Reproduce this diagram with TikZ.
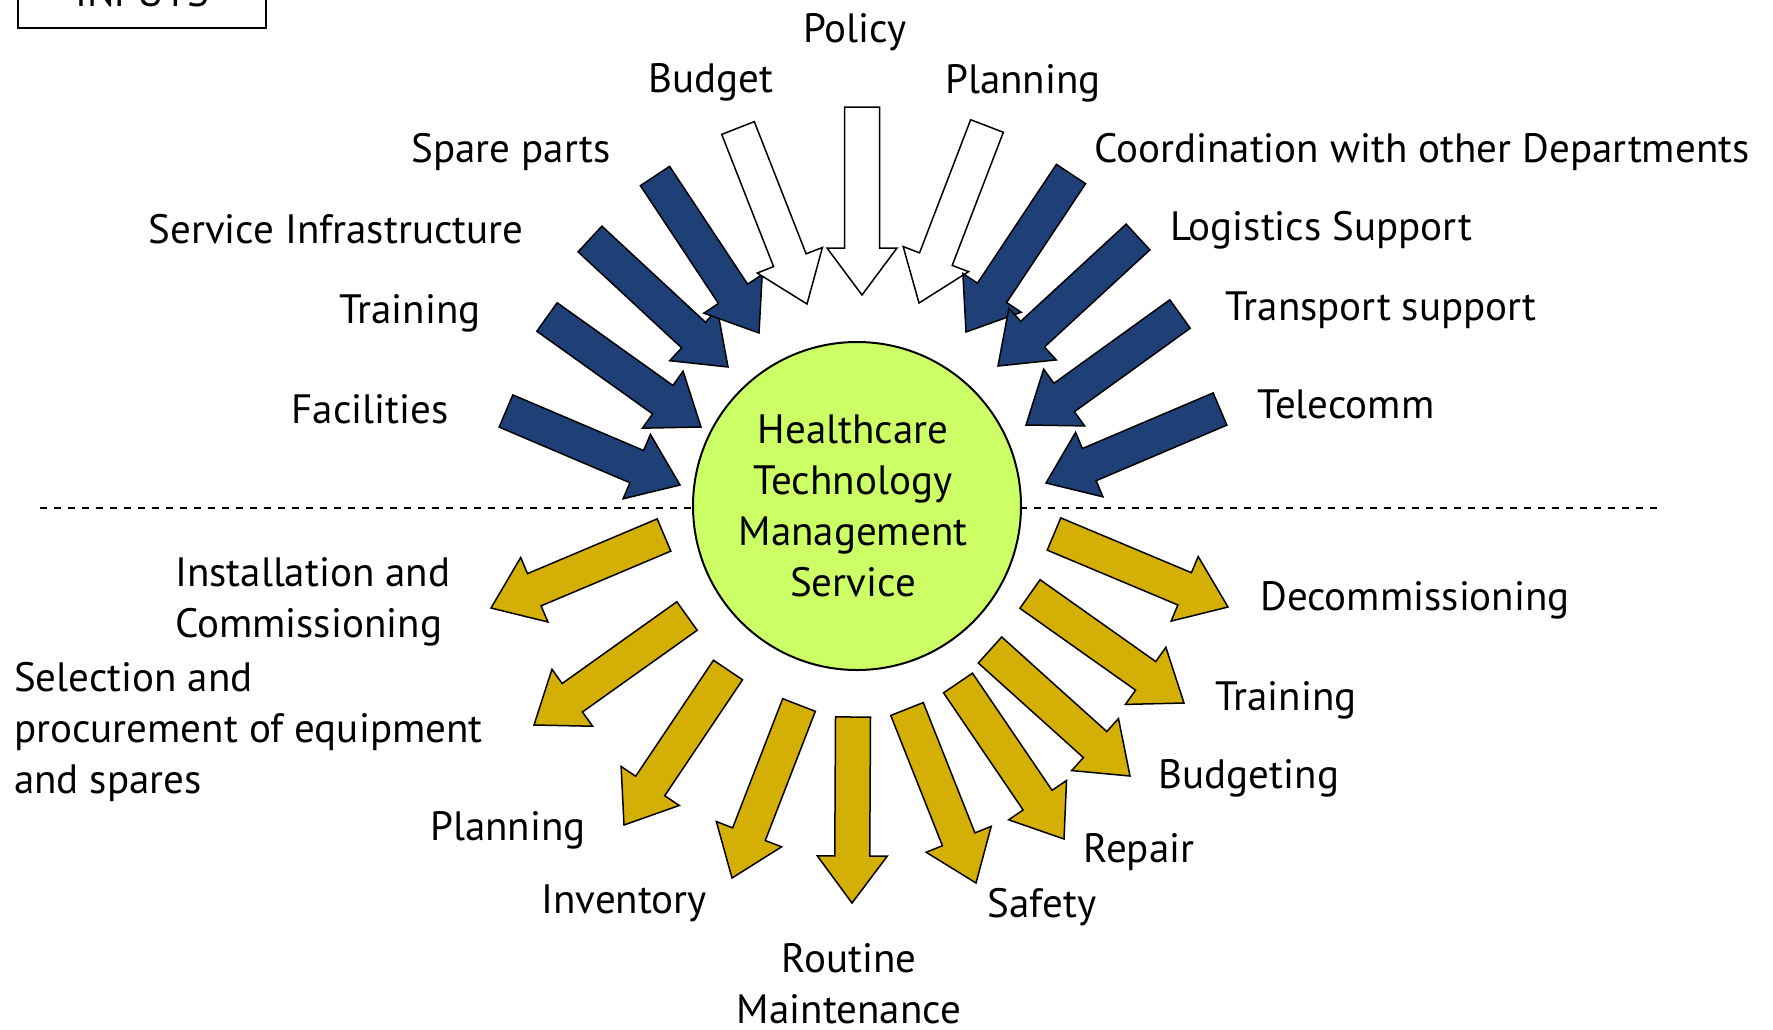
\documentclass[tikz,border=0pt]{standalone}
\usepackage{fontspec}
\setmainfont{PT Sans}
\usetikzlibrary{calc}
\definecolor{navy}{RGB}{31,63,119}
\definecolor{gold}{RGB}{212,175,5}
\definecolor{lime}{RGB}{204,255,102}
\def\fatarrow[#1](#2)(#3){\path let \p1=(#2), \p2=(#3), \n1={atan2(\y2-\y1,\x2-\x1)}, \n2={veclen(\x2-\x1,\y2-\y1)-47pt} in [draw, line width=1.5pt, line join=miter, #1] (\p1) -- ++(\n1+90:17.5pt) -- ++(\n1:\n2) -- ++(\n1+90:17.5pt) -- (\p2) -- ++(\n1-143.33:58.6pt) -- ++(\n1+90:17.5pt) -- ++(\n1+180:\n2) -- cycle;}

\begin{document}
\begin{tikzpicture}[x=1pt, y=-1pt,
		lbl/.style={font=\fontsize{41}{51}\selectfont, inner sep=0pt, anchor=base}]
		%%%%% START %%%%%
		\useasboundingbox (0, 0) rectangle (1773, 1029);
		
		\node[lbl, draw, line width=2pt, minimum width=248pt, text depth=22pt] (inputs) at (142, 6) {INPUTS};
		
		\draw[line width=2pt, dash pattern=on 7pt off 7pt] (40, 508) -- (1660, 508);
		
		% inputs
		\fatarrow[fill=navy](506, 411)(680, 485)
		\fatarrow[fill=navy](547, 317)(701, 427)
		\fatarrow[fill=navy](590, 239)(728, 367)
		\fatarrow[fill=navy](655, 176)(759, 333)
		\fatarrow[fill=white](738, 128)(807, 304)
		\fatarrow[fill=white](862, 107)(862, 295)
		\fatarrow[fill=white](987, 126)(919, 303)
		\fatarrow[fill=navy](1071, 174)(966, 332)
		\fatarrow[fill=navy](1138, 237)(998, 366)
		\fatarrow[fill=navy](1180, 314)(1026, 425)
		\fatarrow[fill=navy](1220, 409)(1046, 483)
		
		% outputs
		\fatarrow[fill=gold](664, 535)(491, 608)
		\fatarrow[fill=gold](687, 616)(534, 725)
		\fatarrow[fill=gold](728, 670)(624, 825)
		\fatarrow[fill=gold](799, 705)(732, 878)
		\fatarrow[fill=gold](853, 717)(852, 903)
		\fatarrow[fill=gold](907, 709)(976, 883)
		\fatarrow[fill=gold](958, 683)(1064, 839)
		\fatarrow[fill=gold](990, 650)(1130, 776)
		\fatarrow[fill=gold](1030, 594)(1184, 703)
		\fatarrow[fill=gold](1054, 534)(1228, 607)
		
		\node[circle, draw, line width=2pt, fill=lime, minimum size=328pt, inner sep=0pt] (hub) at (857, 506) {};
		\node[lbl, align=center] (hubtext) at (853, 596) {Healthcare\\Technology\\Management\\Service};
		
		\node[lbl] (policy) at (855, 42) {Policy};
		\node[lbl] (budget) at (711, 92) {Budget};
		\node[lbl] (planin) at (1023, 93) {Planning};
		\node[lbl] (spares) at (511, 162) {Spare parts};
		\node[lbl] (coord) at (1422, 162) {Coordination with other Departments};
		\node[lbl] (infra) at (336, 243) {Service Infrastructure};
		\node[lbl] (logist) at (1321, 240) {Logistics Support};
		\node[lbl] (trainin) at (410, 323) {Training};
		\node[lbl] (transp) at (1381, 320) {Transport support};
		\node[lbl] (facil) at (370, 423) {Facilities};
		\node[lbl] (telec) at (1346, 418) {Telecomm};
		
		\node[lbl, anchor=base west, align=left] (install) at (175, 637) {Installation and\\Commissioning};
		\node[lbl, anchor=base west, align=left] (select) at (14, 793) {Selection and\\procurement of equipment\\and spares};
		\node[lbl] (planout) at (508, 840) {Planning};
		\node[lbl] (invent) at (624, 913) {Inventory};
		\node[lbl, align=center] (routine) at (849, 1023) {Routine\\Maintenance};
		\node[lbl] (safety) at (1042, 917) {Safety};
		\node[lbl] (repair) at (1139, 862) {Repair};
		\node[lbl] (budgout) at (1249, 788) {Budgeting};
		\node[lbl] (trainout) at (1286, 710) {Training};
		\node[lbl] (decom) at (1415, 610) {Decommissioning};
		
		%%%%% END %%%%%
\end{tikzpicture}
\end{document}
